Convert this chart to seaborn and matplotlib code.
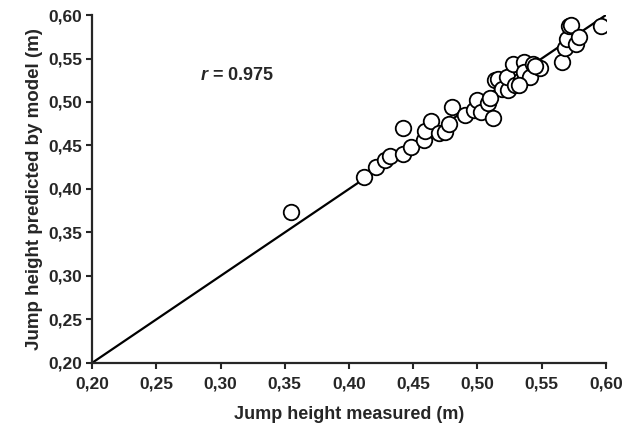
import numpy as np
import pandas as pd
import matplotlib
matplotlib.use("Agg")
import matplotlib.pyplot as plt
import seaborn as sns

# measured vs predicted jump height (m)
measured = [0.355, 0.412, 0.421, 0.428, 0.432, 0.442, 0.448, 0.442, 0.458, 0.459,
            0.4635, 0.470, 0.475, 0.478, 0.480, 0.490, 0.497, 0.500, 0.503, 0.508,
            0.512, 0.5135, 0.516, 0.519, 0.524, 0.523, 0.528, 0.529, 0.534, 0.536,
            0.536, 0.541, 0.5435, 0.549, 0.566, 0.568, 0.570, 0.571, 0.573, 0.577,
            0.579, 0.596, 0.532, 0.545, 0.510]
predicted = [0.373, 0.414, 0.425, 0.433, 0.438, 0.440, 0.448, 0.470, 0.456, 0.467,
             0.478, 0.464, 0.466, 0.475, 0.494, 0.485, 0.491, 0.502, 0.489, 0.499,
             0.482, 0.525, 0.527, 0.515, 0.514, 0.529, 0.544, 0.520, 0.525, 0.546,
             0.535, 0.529, 0.544, 0.539, 0.546, 0.562, 0.572, 0.587, 0.589, 0.567,
             0.575, 0.587, 0.520, 0.541, 0.505]

line_x = [0.20, 0.60]
line_y = [0.20, 0.60]

ticks = [0.20, 0.25, 0.30, 0.35, 0.40, 0.45, 0.50, 0.55, 0.60]
tick_labels = ["0,20", "0,25", "0,30", "0,35", "0,40", "0,45", "0,50", "0,55", "0,60"]

df = pd.DataFrame({"measured": measured, "predicted": predicted})

sns.set_style("ticks")
plt.rcParams["font.family"] = ["Liberation Sans", "DejaVu Sans"]
plt.rcParams["font.weight"] = "bold"
plt.rcParams["mathtext.fontset"] = "custom"
plt.rcParams["mathtext.it"] = "Liberation Sans:italic:bold"
plt.rcParams["mathtext.rm"] = "Liberation Sans:bold"

fig = plt.figure(figsize=(6.26, 4.29), dpi=100)
ax = fig.add_axes([0.147, 0.154, 0.821, 0.811])

sns.lineplot(x=line_x, y=line_y, ax=ax, color="black", linewidth=1.6)
sns.scatterplot(data=df, x="measured", y="predicted", ax=ax,
                s=125, facecolor="white", edgecolor="black", linewidth=1.3, zorder=3)

ax.set_xlim(0.20, 0.60)
ax.set_ylim(0.20, 0.60)
ax.set_xticks(ticks)
ax.set_xticklabels(tick_labels)
ax.set_yticks(ticks)
ax.set_yticklabels(tick_labels)
ax.tick_params(direction="out", length=4, width=1.5, labelsize=12.5, pad=3)
ax.tick_params(axis="x", pad=6)
for lab in ax.get_xticklabels() + ax.get_yticklabels():
    lab.set_fontweight("bold")

ax.spines["left"].set_linewidth(1.6)
ax.spines["bottom"].set_linewidth(1.6)
sns.despine(ax=ax)
for s in ["left", "bottom"]:
    ax.spines[s].set_clip_on(False)

ax.set_xlabel("Jump height measured (m)", fontsize=13, fontweight="bold", labelpad=10)
ax.set_ylabel("Jump height predicted by model (m)", fontsize=13.5, fontweight="bold", labelpad=4)

ax.text(0.284, 0.530, r"$\mathit{r}$ = 0.975", fontsize=13, fontweight="bold", va="center")

fig.savefig("out.png", dpi=100)
